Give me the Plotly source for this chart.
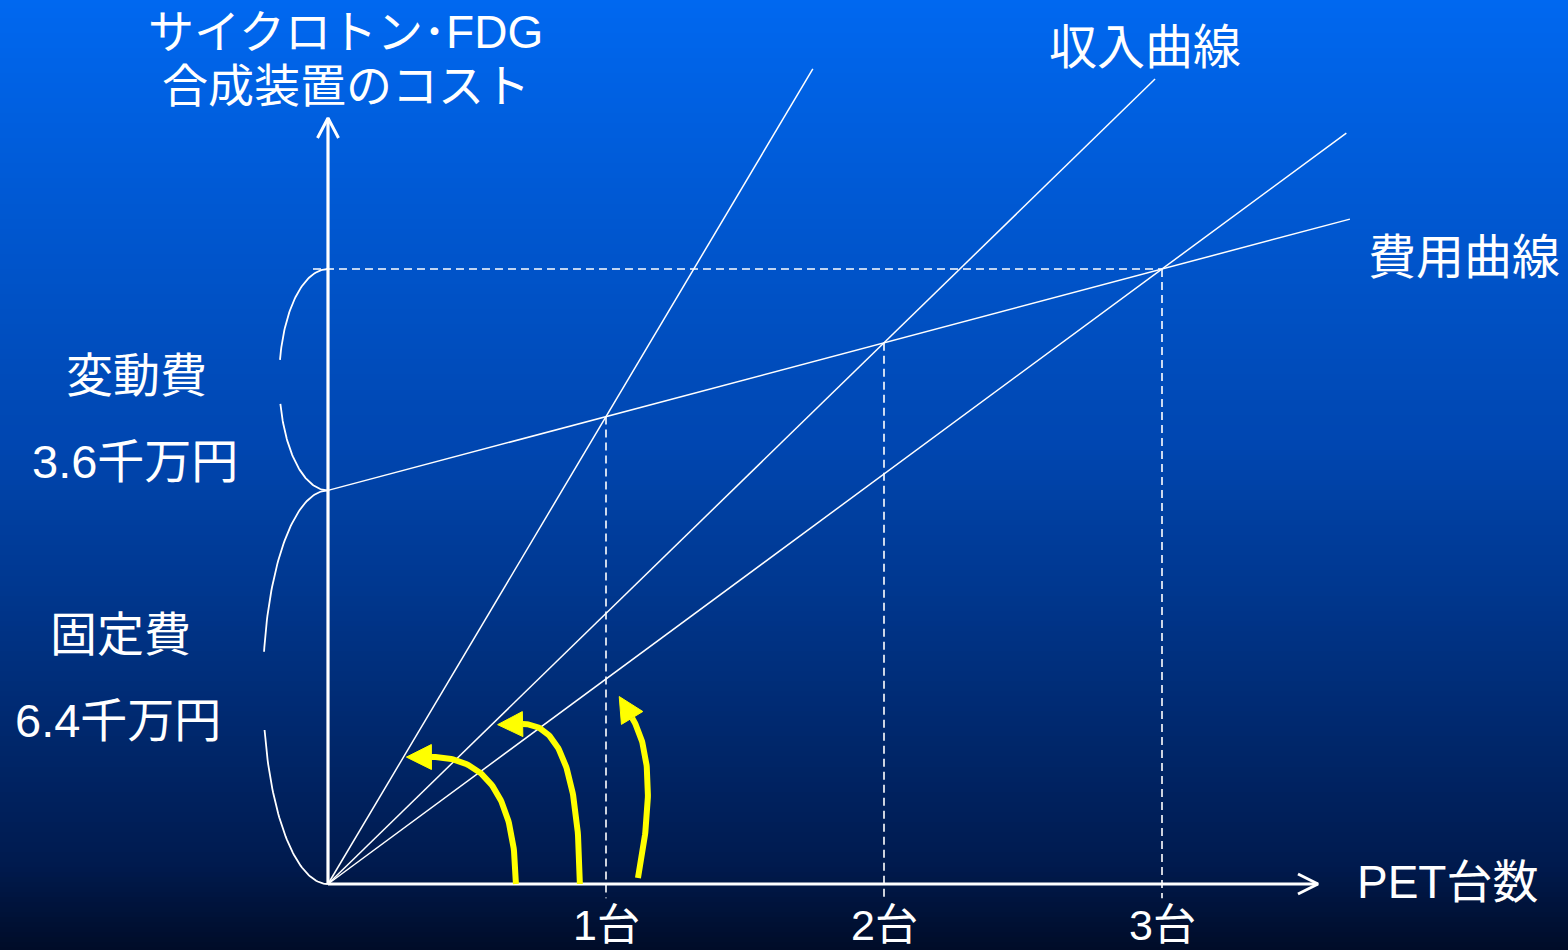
import numpy as np
import plotly.graph_objects as go

# ---- data -------------------------------------------------------------
fixed_cost = 6.4            # 固定費 (千万円)
variable_cost_total = 3.6   # 変動費 over three units (千万円)
units = [1, 2, 3]           # break-even PET units for each revenue line
unit_labels = ["1台", "2台", "3台"]
revenue_line_end_x = [1.744, 2.975, 3.663]   # how far each revenue line extends
cost_line_end_x = 3.676

# yellow arrows: quadratic curves (start, control, end) in data units
arrow_start = [(0.676, 0.0), (0.906, 0.0), (1.115, 0.098)]
arrow_ctrl = [(0.672, 2.07), (0.902, 2.62), (1.196, 1.935)]
arrow_end = [(0.372, 2.065), (0.700, 2.60), (1.094, 2.70)]

# ---- layout geometry --------------------------------------------------
W, H = 1568, 950
ORIGIN_PX = (328, 884)
SX, SY = 278.0, 61.5        # pixels per unit on x and y
x_range = [(0 - ORIGIN_PX[0]) / SX, (W - ORIGIN_PX[0]) / SX]
y_range = [(ORIGIN_PX[1] - H) / SY, ORIGIN_PX[1] / SY]

def to_paper(px, py):
    return px / W, 1 - py / H

FONT = "Liberation Sans, Arial, Noto Sans CJK JP, sans-serif"
WHITE = "#ffffff"
YELLOW = "#ffff00"

variable_per_unit = variable_cost_total / units[-1]
def cost(n):
    return fixed_cost + variable_per_unit * n

fig = go.Figure()

# background gradient
stops = [(0.0, (0, 104, 240)), (0.47, (0, 70, 176)), (0.91, (0, 26, 78)), (1.0, (0, 12, 40))]
colorscale = [[p, "rgb(%d,%d,%d)" % c] for p, c in stops]
n_rows = 190
row_y = np.linspace(y_range[1], y_range[0], n_rows)
zvals = np.linspace(0, 1, n_rows)
fig.add_trace(go.Heatmap(
    x=[x_range[0] - 1, x_range[1] + 1], y=row_y,
    z=[[v, v] for v in zvals], colorscale=colorscale, zmin=0, zmax=1,
    showscale=False, hoverinfo="skip", zsmooth=False,
))

def line(xs, ys, color=WHITE, width=1.5, dash=None):
    fig.add_trace(go.Scatter(
        x=xs, y=ys, mode="lines", hoverinfo="skip", showlegend=False,
        line=dict(color=color, width=width, dash=dash),
    ))

# dashed guides at each break-even point
dash = "8px,5px"
for n in units:
    line([n, n], [cost(n), -0.23], width=1.6, dash=dash)
line([-0.054, units[-1]], [cost(units[-1])] * 2, width=1.6, dash=dash)

# cost line and revenue lines
line([0, cost_line_end_x], [fixed_cost, cost(cost_line_end_x)])
for n, xe in zip(units, revenue_line_end_x):
    price = cost(n) / n
    line([0, xe], [0, price * xe])

# braces beside the y axis
def brace(y_lo, y_hi, rx_px):
    cy, ry = (y_lo + y_hi) / 2, (y_hi - y_lo) / 2
    rx = rx_px / SX
    for a, b in [(0.0, 1.39), (1.79, np.pi)]:
        t = np.linspace(a, b, 60)
        line(-rx * np.sin(t), cy + ry * np.cos(t), width=1.8)

brace(fixed_cost, fixed_cost + variable_cost_total, 48.8)
brace(0, fixed_cost, 65)

# axes with open chevron heads
x_tip = (1318 - ORIGIN_PX[0]) / SX
y_tip = (ORIGIN_PX[1] - 118) / SY
line([0, x_tip], [0, 0], width=3.2)
line([0, 0], [0, y_tip], width=3.2)
line([x_tip - 20 / SX, x_tip, x_tip - 20 / SX], [10 / SY, 0, -10 / SY], width=3)
line([-10.5 / SX, 0, 10.5 / SX], [y_tip - 20 / SY, y_tip, y_tip - 20 / SY], width=3)

# yellow curved arrows
for (sx, sy), (cx, cy), (ex, ey) in zip(arrow_start, arrow_ctrl, arrow_end):
    t = np.linspace(0, 1, 80)
    bx = (1 - t) ** 2 * sx + 2 * (1 - t) * t * cx + t ** 2 * ex
    by = (1 - t) ** 2 * sy + 2 * (1 - t) * t * cy + t ** 2 * ey
    line(bx, by, color=YELLOW, width=6)
    # arrow head built in pixel space along the end tangent
    dx, dy = (ex - cx) * SX, (ey - cy) * SY
    L = np.hypot(dx, dy)
    ux, uy = dx / L, dy / L
    hl, hw = 25, 12.5
    tipx, tipy = ex + ux * hl / SX, ey + uy * hl / SY
    b1x, b1y = ex - uy * hw / SX, ey + ux * hw / SY
    b2x, b2y = ex + uy * hw / SX, ey - ux * hw / SY
    fig.add_trace(go.Scatter(
        x=[tipx, b1x, b2x, tipx], y=[tipy, b1y, b2y, tipy], mode="lines",
        fill="toself", fillcolor=YELLOW, line=dict(color=YELLOW, width=1),
        hoverinfo="skip", showlegend=False,
    ))

# ---- text -------------------------------------------------------------
def text(s, px, py, size=46):
    xp, yp = to_paper(px, py)
    fig.add_annotation(x=xp, y=yp, xref="paper", yref="paper", text=s,
                       showarrow=False, xanchor="center", yanchor="middle",
                       font=dict(family=FONT, size=size, color=WHITE))

text("サイクロトン･FDG", 345, 32, 46)
text("合成装置のコスト", 346, 86, 46)
text("収入曲線", 1145, 48, 48)
text("費用曲線", 1464, 257, 48)
text("変動費", 136, 376, 47)
text("%.1f千万円" % variable_cost_total, 135, 461, 47)
text("固定費", 120, 634, 47)
text("%.1f千万円" % fixed_cost, 118, 720, 47)
text("PET台数", 1447, 882, 46)
for n, lab in zip(units, unit_labels):
    fig.add_annotation(x=n, y=-0.66, xref="x", yref="y", text=lab, showarrow=False,
                       xanchor="center", yanchor="middle",
                       font=dict(family=FONT, size=43, color=WHITE))

fig.update_layout(
    width=W, height=H, margin=dict(l=0, r=0, t=0, b=0),
    paper_bgcolor="rgb(0,60,160)", plot_bgcolor="rgba(0,0,0,0)",
    showlegend=False,
    xaxis=dict(range=x_range, visible=False, fixedrange=True),
    yaxis=dict(range=y_range, visible=False, fixedrange=True),
)

fig.write_html("out.html", config={"displayModeBar": False})
